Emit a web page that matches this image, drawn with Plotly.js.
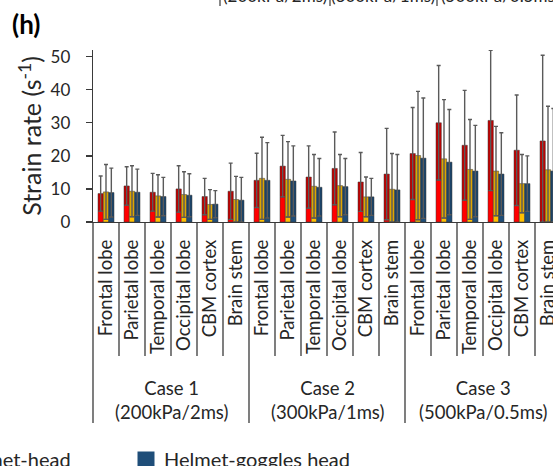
<!DOCTYPE html>
<html><head><meta charset="utf-8">
<script src="https://cdn.plot.ly/plotly-3.0.1.min.js"></script>
<style>html,body{margin:0;padding:0;background:#fff}#chart{width:553px;height:466px}</style>
</head><body><div id="chart"></div>
<script>
// ---- data ----
const regions = ['Frontal lobe','Parietal lobe','Temporal lobe','Occipital lobe','CBM cortex','Brain stem'];
const caseLabels = ['Case 1<br>(200kPa/2ms)','Case 2<br>(300kPa/1ms)','Case 3<br>(500kPa/0.5ms)'];
const topCutLabels = ['(200kPa/2ms)','(300kPa/1ms)','(500kPa/0.5ms)'];
const seriesNames = ['Bare head','Helmet-head','Helmet-goggles head'];
const bareMean    = [8.6,10.9,9.0,10.0,7.7,9.3,  12.6,16.9,13.6,16.2,12.1,14.5,  20.7,30.0,23.2,30.7,21.7,24.5];
const bareSD      = [5.3,5.8,5.7,7.0,5.5,8.5,    8.2,9.3,9.4,11.0,8.9,13.8,      13.9,17.3,16.6,21.2,16.7,25.9];
const helmetMean  = [9.1,9.3,7.9,8.3,5.3,6.8,    13.2,12.9,10.8,11.0,7.6,9.9,    20.1,19.1,15.9,15.4,11.6,15.8];
const helmetSD    = [8.3,7.7,6.4,6.9,4.5,7.0,    12.4,11.4,9.6,9.4,6.0,10.8,     19.4,17.9,15.1,13.5,8.8,19.2];
const gogglesMean = [8.9,9.0,7.7,8.1,5.4,6.6,    12.6,12.4,10.5,10.7,7.6,9.7,    19.3,18.1,15.4,14.5,11.6,15.4];
const gogglesSD   = [7.4,7.0,5.8,6.5,4.1,6.9,    11.4,10.6,8.7,8.5,5.6,10.7,     18.2,15.9,13.8,12.5,8.4,18.9];

// ---- styling ----
const FONT = 'Lato, "Liberation Sans", sans-serif';
const TXT = '#262626';
const brightCol = ['#FF0000','#FFC000','#1F4E79'];
const darkCol   = ['#C00000','#DDA600','#1B446A'];
const axisCol = '#3a3a3a';
const ML = 93, MT = 50, MB = 244, W = 553, H = 466;
const plotW = W - ML, plotH = H - MT - MB;
const px2x = p => (p - ML) / plotW;
const px2y = p => (H - MB - p) / plotH;

const nCat = regions.length * caseLabels.length;
const xs = Array.from({length: nCat}, (_, i) => i);
const tickText = caseLabels.flatMap(() => regions);
const xMin = -0.5, xMax = xMin + plotW / 26;
const cat2paper = v => (v - xMin) / (xMax - xMin);

const means = [bareMean, helmetMean, gogglesMean];
const sds = [bareSD, helmetSD, gogglesSD];
const traces = [];
means.forEach((m, s) => {
  const sd = sds[s];
  const low = m.map((v, i) => Math.max(0, v - sd[i]));
  traces.push({
    type: 'bar', x: xs, y: low, name: seriesNames[s], offsetgroup: 'g' + s,
    marker: {color: brightCol[s], line: {color: '#3a3a3a', width: 0.5}},
    showlegend: false, hoverinfo: 'skip'
  });
  traces.push({
    type: 'bar', x: xs, y: m.map((v, i) => v - low[i]), base: low, offsetgroup: 'g' + s,
    name: seriesNames[s], showlegend: false, cliponaxis: false,
    marker: {color: darkCol[s], line: {color: '#3a3a3a', width: 0.5}},
    error_y: {type: 'data', symmetric: false, array: sd, arrayminus: m.map((v, i) => v - low[i]),
              color: '#5a5a5a', thickness: 1.4, width: 2},
    hoverinfo: 'skip'
  });
});

// separators below the category axis
const shapes = [];
for (let k = 0; k < nCat; k++) {
  const isCase = k % regions.length === 0;
  shapes.push({type: 'line', xref: 'paper', yref: 'paper',
    x0: cat2paper(k - 0.5), x1: cat2paper(k - 0.5),
    y0: 0, y1: px2y(isCase ? 423 : 356),
    line: {color: axisCol, width: 1.3}});
}
// cut-off separators of the chart above
[220, 330, 437].forEach(p => shapes.push({type: 'line', xref: 'paper', yref: 'paper',
  x0: px2x(p), x1: px2x(p), y0: px2y(-4), y1: px2y(6), line: {color: axisCol, width: 1.2}}));

const annotations = [];
caseLabels.forEach((t, c) => annotations.push({
  text: t, xref: 'x', yref: 'paper', x: c * regions.length + (regions.length - 1) / 2,
  y: px2y(399.5), xanchor: 'center', yanchor: 'middle', showarrow: false,
  font: {family: FONT, size: 18.5, color: TXT}
}));
annotations.push({text: '<b>(h)</b>', xref: 'paper', yref: 'paper', x: px2x(10), y: px2y(24),
  xanchor: 'left', yanchor: 'middle', showarrow: false, font: {family: FONT, size: 26, color: '#000'}});
[275, 383, 500].forEach((p, i) => annotations.push({text: topCutLabels[i], xref: 'paper', yref: 'paper',
  x: px2x(p), y: px2y(-4.5), xanchor: 'center', yanchor: 'middle', showarrow: false,
  font: {family: FONT, size: 17, color: TXT}}));

// legend (partly cut off at the left edge, as in the reference)
const legendItems = [
  {name: seriesNames[1], color: brightCol[1], sq: -90, textRight: 73},
  {name: seriesNames[2], color: brightCol[2], sq: 137.5}
];
legendItems.forEach(it => {
  shapes.push({type: 'rect', xref: 'paper', yref: 'paper',
    x0: px2x(it.sq), x1: px2x(it.sq + 17), y0: px2y(451.5), y1: px2y(468.5),
    fillcolor: it.color, line: {width: 0}});
  annotations.push({text: it.name, xref: 'paper', yref: 'paper',
    x: it.textRight !== undefined ? px2x(it.textRight) : px2x(it.sq + 24),
    xanchor: it.textRight !== undefined ? 'right' : 'left',
    y: px2y(459), yanchor: 'middle', showarrow: false,
    font: {family: FONT, size: 20, color: TXT}});
});

const layout = {
  width: W, height: H, paper_bgcolor: '#fff', plot_bgcolor: '#fff',
  margin: {l: ML, r: 0, t: MT, b: MB, pad: 0, autoexpand: false},
  barmode: 'group', bargap: 0.385, bargroupgap: 0, showlegend: false,
  font: {family: FONT, color: TXT},
  xaxis: {range: [xMin, xMax], tickvals: xs, ticktext: tickText, tickangle: -90,
    ticks: '', showline: true, linecolor: axisCol, linewidth: 1.3, showgrid: false, zeroline: false,
    tickfont: {family: FONT, size: 18.5, color: TXT}, ticklabelstandoff: 9, automargin: false,
    ticklabeloverflow: 'allow'},
  yaxis: {range: [0, 52], tickvals: [0,10,20,30,40,50], ticks: 'outside', ticklen: 6, tickwidth: 1.3,
    tickcolor: axisCol, showline: true, linecolor: axisCol, linewidth: 1.3, showgrid: false, zeroline: false,
    tickfont: {family: FONT, size: 17, color: TXT}, ticklabelstandoff: 12, automargin: false,
    title: {text: 'Strain rate (s<sup>-1</sup>)', font: {family: FONT, size: 25, color: TXT}, standoff: 1}},
  shapes, annotations
};
Plotly.newPlot('chart', traces, layout, {displayModeBar: false, staticPlot: true});
</script></body></html>
